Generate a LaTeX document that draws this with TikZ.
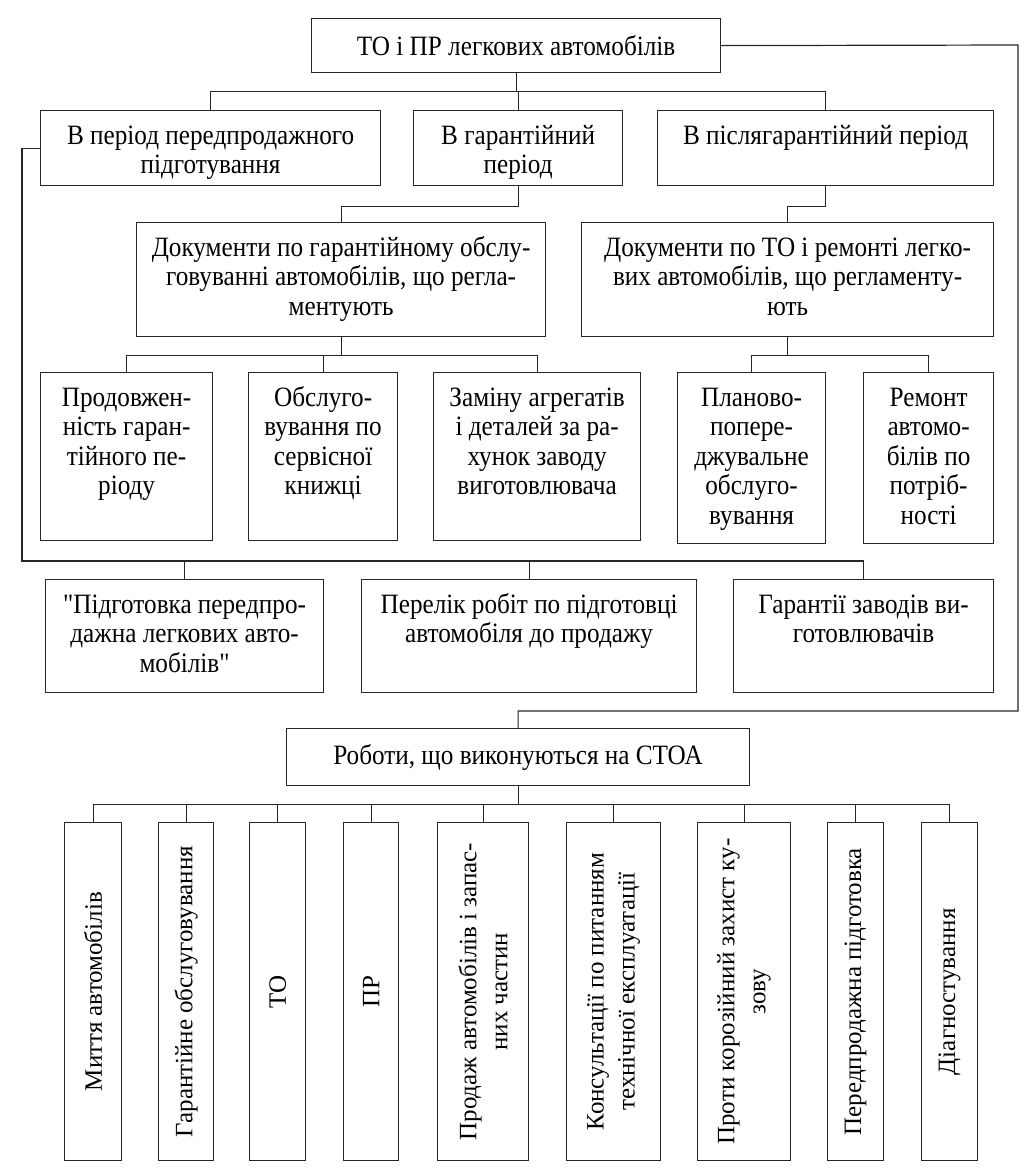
\documentclass[tikz,border=0pt]{standalone}
\usepackage{fontspec}
\setmainfont{Liberation Serif}
\newfontfamily\cond{Liberation Serif}[FakeStretch=0.9]
\newcommand\ts{\rule{0pt}{22pt}}
\begin{document}
\begin{tikzpicture}[x=1pt,y=-1pt,
  ln/.style={line width=1.2pt, draw=black!85},
  bx/.style={draw=black!85, line width=1.2pt, inner sep=0pt, anchor=north west},
  ut/.style={font=\cond\fontsize{28}{29.5}\selectfont, align=center, inner sep=0pt, anchor=north},
  vt/.style={font=\fontsize{25}{31}\selectfont, align=center, inner sep=0pt, rotate=90},
]
\fill[white] (0,0) rectangle (1030,1176);
\useasboundingbox (0,0) rectangle (1030,1176);

% top
\node[bx, minimum width=409pt, minimum height=54pt, font=\cond\fontsize{28}{29.5}\selectfont] (top) at (311,18) {ТО і ПР легкових автомобілів};

% level 2
\node[bx, minimum width=340pt, minimum height=75pt] (A) at (40,110) {};
\node[ut] (At) at ([yshift=-12pt]A.north) {\ts В період передпродажного\\підготування};
\node[bx, minimum width=209pt, minimum height=75pt] (B) at (413,110) {};
\node[ut] (Bt) at ([yshift=-12pt]B.north) {\ts В гарантійний\\період};
\node[bx, minimum width=336pt, minimum height=75pt] (C) at (657,110) {};
\node[ut] (Ct) at ([yshift=-12pt]C.north) {\ts В післягарантійний період};

% level 3
\node[bx, minimum width=409pt, minimum height=114pt] (D1) at (136,222) {};
\node[ut] (D1t) at ([yshift=-12pt]D1.north) {\ts Документи по гарантійному обслу-\\говуванні автомобілів, що регла-\\ментують};
\node[bx, minimum width=412pt, minimum height=114pt] (D2) at (581,222) {};
\node[ut] (D2t) at ([yshift=-12pt]D2.north) {\ts Документи по ТО і ремонті легко-\\вих автомобілів, що регламенту-\\ють};

% level 4
\node[bx, minimum width=172pt, minimum height=168pt] (P1) at (40,372) {};
\node[ut] (P1t) at ([yshift=-12pt]P1.north) {\ts Продовжен-\\ність гаран-\\тійного пе-\\ріоду};
\node[bx, minimum width=149pt, minimum height=168pt] (P2) at (248,372) {};
\node[ut] (P2t) at ([yshift=-12pt]P2.north) {\ts Обслуго-\\вування по\\сервісної\\книжці};
\node[bx, minimum width=207pt, minimum height=168pt] (P3) at (433,372) {};
\node[ut] (P3t) at ([yshift=-12pt]P3.north) {\ts Заміну агрегатів\\і деталей за ра-\\хунок заводу\\виготовлювача};
\node[bx, minimum width=148pt, minimum height=171pt] (P4) at (677,372) {};
\node[ut] (P4t) at ([yshift=-12pt]P4.north) {\ts Планово-\\попере-\\джувальне\\обслуго-\\вування};
\node[bx, minimum width=130pt, minimum height=171pt] (P5) at (863,372) {};
\node[ut] (P5t) at ([yshift=-12pt]P5.north) {\ts Ремонт\\автомо-\\білів по\\потріб-\\ності};

% level 5
\node[bx, minimum width=278pt, minimum height=113pt] (L1) at (45,579) {};
\node[ut] (L1t) at ([yshift=-12pt]L1.north) {\ts "Підготовка передпро-\\дажна легкових авто-\\мобілів"};
\node[bx, minimum width=335pt, minimum height=113pt] (L2) at (361,579) {};
\node[ut] (L2t) at ([yshift=-12pt]L2.north) {\ts Перелік робіт по підготовці\\автомобіля до продажу};
\node[bx, minimum width=260pt, minimum height=113pt] (L3) at (733,579) {};
\node[ut] (L3t) at ([yshift=-12pt]L3.north) {\ts Гарантії заводів ви-\\готовлювачів};

% works
\node[bx, minimum width=463pt, minimum height=57pt, font=\cond\fontsize{28}{29.5}\selectfont] (R) at (286,728) {Роботи, що виконуються на СТОА};

% bottom
\node[bx, minimum width=57pt, minimum height=338pt] (b1) at (64,822) {};
\node[bx, minimum width=55pt, minimum height=338pt] (b2) at (158,822) {};
\node[bx, minimum width=56pt, minimum height=338pt] (b3) at (249,822) {};
\node[bx, minimum width=55pt, minimum height=338pt] (b4) at (343,822) {};
\node[bx, minimum width=91pt, minimum height=338pt] (b5) at (437,822) {};
\node[bx, minimum width=94pt, minimum height=338pt] (b6) at (566,822) {};
\node[bx, minimum width=93pt, minimum height=338pt] (b7) at (697,822) {};
\node[bx, minimum width=56pt, minimum height=338pt] (b8) at (827,822) {};
\node[bx, minimum width=56pt, minimum height=338pt] (b9) at (921,822) {};
\node[vt] (b1t) at (b1.center) {Миття автомобілів};
\node[vt] (b2t) at (b2.center) {Гарантійне обслуговування};
\node[vt] (b3t) at (b3.center) {ТО};
\node[vt] (b4t) at (b4.center) {ПР};
\node[vt] (b5t) at (b5.center) {Продаж автомобілів і запас-\\них частин};
\node[vt] (b6t) at (b6.center) {Консультації по питанням\\технічної експлуатації};
\node[vt] (b7t) at (b7.center) {Проти корозійний захист ку-\\зову};
\node[vt] (b8t) at (b8.center) {Передпродажна підготовка};
\node[vt] (b9t) at (b9.center) {Діагностування};

% connectors
\draw[ln] (top.south) -- ++(0,18) coordinate (j1);
\draw[ln] (A.north) |- (j1) -| (C.north);
\draw[ln] (B.north) -- (B.north |- j1);
\draw[ln] (B.south) -- ++(0,20) -| (D1.north);
\draw[ln] (C.south) -- ++(0,20) -| (D2.north);
\draw[ln] (D1.south) -- ++(0,18) coordinate (j2);
\draw[ln] (P1.north) |- (j2) -| (P3.north);
\draw[ln] (P2.north) -- (P2.north |- j2);
\draw[ln] (D2.south) -- ++(0,18) coordinate (j3);
\draw[ln] (P4.north) |- (j3) -| (P5.north);
\coordinate (lb) at (0,561);
\draw[ln] (A.west) -- ++(-18,0) |- (L3.north |- lb) -- (L3.north);
\draw[ln] (L1.north) -- (L1.north |- lb);
\draw[ln] (L2.north) -- (L2.north |- lb);
\coordinate (rc) at (1018,45);
\coordinate (rb) at (1018,711);
\draw[ln] (top.east) -- (rc) -- (rb) -| (R.north);
\draw[ln] (R.south) -- ++(0,18) coordinate (j4);
\draw[ln] (b1.north) |- (j4) -| (b9.north);
\foreach \i in {2,...,8} \draw[ln] (b\i.north) -- (b\i.north |- j4);
\end{tikzpicture}
\end{document}
